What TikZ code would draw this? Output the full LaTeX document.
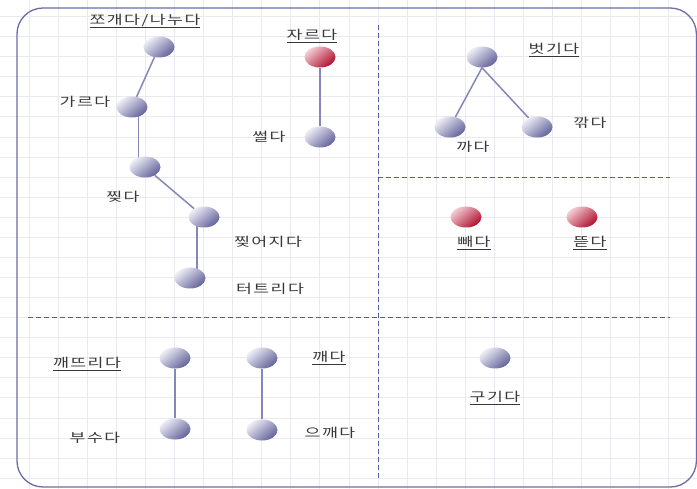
\documentclass[tikz,border=0pt]{standalone}
\usepackage{fontspec}
\newfontfamily\kr[FakeStretch=1.38,LetterSpace=12]{Noto Sans CJK KR}
\usetikzlibrary{shapes.geometric,calc}
\definecolor{gridc}{HTML}{E9E9EF}
\definecolor{framec}{HTML}{6C6CA8}
\definecolor{dashc}{HTML}{5A5AAA}
\definecolor{edgec}{HTML}{8686B8}
\definecolor{balllight}{HTML}{EEEEF7}
\definecolor{balldark}{HTML}{62629A}
\definecolor{redlight}{HTML}{F4CDD6}
\definecolor{reddark}{HTML}{B0102E}
\definecolor{txt}{HTML}{383838}
\pgfdeclarelayer{gridlayer}
\pgfdeclarelayer{edgelayer}
\pgfsetlayers{gridlayer,edgelayer,main}
\tikzset{
  ball/.style={ellipse, minimum width=31pt, minimum height=21pt, inner sep=0pt,
    top color=balllight, bottom color=balldark, shading angle=40},
  redball/.style={ball, top color=redlight, bottom color=reddark, shading angle=40},
  lbl/.style={inner sep=0pt, text=txt, font=\kr\fontsize{12.5}{14}\selectfont},
  edge/.style={draw=edgec, line width=1.5pt},
  sep/.style={draw=dashc, line width=1pt, dash pattern=on 5pt off 3pt},
}
\begin{document}
\begin{tikzpicture}[x=1pt,y=-1pt]
\useasboundingbox (0,0) rectangle (697,489);
\begin{pgfonlayer}{gridlayer}
\fill[white] (0,0) rectangle (697,489);
\foreach \k in {1,...,23} {
  \draw[gridc, line width=0.8pt] ({29.08*\k},0) -- ({29.08*\k},489);
}
\foreach \k in {0,...,23} {
  \draw[gridc, line width=0.8pt] (0,{16.5+20.07*\k}) -- (697,{16.5+20.07*\k});
}
\draw[framec, line width=1.3pt, rounded corners=26pt] (17,8) rectangle (696.4,487);
\coordinate (vt) at (378,25);
\coordinate (vb) at (378,480);
\coordinate (h1l) at (378,178);
\coordinate (h1r) at (670,178);
\coordinate (h2l) at (28,318);
\coordinate (h2r) at (670,318);
\draw[sep] (vt) -- (vb);
\draw[sep] (h1l) -- (h1r);
\draw[sep] (h2l) -- (h2r);
\end{pgfonlayer}

% nodes
\node[ball] (n1) at (159,47) {};
\node[ball] (n2) at (132,107) {};
\node[ball] (n3) at (145,167) {};
\node[ball] (n4) at (204,217) {};
\node[ball] (n5) at (190,278) {};
\node[redball] (ja) at (320,57) {};
\node[ball] (sseol) at (320,137) {};
\node[ball] (beot) at (482,57) {};
\node[ball] (kka) at (450,127) {};
\node[ball] (kkak) at (537,127) {};
\node[redball] (ppae) at (466,217) {};
\node[redball] (tteut) at (582,217) {};
\node[ball] (kkaet) at (175,358) {};
\node[ball] (busu) at (175,429) {};
\node[ball] (kkae) at (262,358) {};
\node[ball] (eukkae) at (262,430) {};
\node[ball] (gugi) at (495,358) {};

% labels
\node[lbl] (l1) at (145,21) {\underline{쪼개다/나누다}};
\node[lbl] (l2) at (85,102) {가르다};
\node[lbl] (l3) at (123,197) {찢다};
\node[lbl] (l4) at (268,242) {찢어지다};
\node[lbl] (l5) at (270,289) {터트리다};
\node[lbl] (lja) at (312,36) {\underline{자르다}};
\node[lbl] (lsseol) at (269,137) {썰다};
\node[lbl] (lbeot) at (554,50) {\underline{벗기다}};
\node[lbl] (lkka) at (473,147) {까다};
\node[lbl] (lkkak) at (590,123) {깎다};
\node[lbl] (lppae) at (474,243) {\underline{빼다}};
\node[lbl] (ltteut) at (590,243) {\underline{뜯다}};
\node[lbl] (lkkaet) at (87,364) {\underline{깨뜨리다}};
\node[lbl] (lbusu) at (95,438) {부수다};
\node[lbl] (lkkae) at (329,358) {\underline{깨다}};
\node[lbl] (leukkae) at (330,433) {으깨다};
\node[lbl] (lgugi) at (495,398) {\underline{구기다}};

\coordinate (m23) at ($(n2)!0.5!(n3)$);
\coordinate (m45) at ($(n4)!0.5!(n5)$);
\begin{pgfonlayer}{edgelayer}
\draw[edge] (n1) -- (n2);
\draw[edge] (m23 |- n2) -- (m23 |- n3);
\draw[edge] (n3) -- (n4);
\draw[edge] (m45 |- n4) -- (m45 |- n5);
\draw[edge] (ja) -- (sseol);
\draw[edge] (beot.south) -- (kka);
\draw[edge] (beot.south) -- (kkak);
\draw[edge] (kkaet) -- (busu);
\draw[edge] (kkae) -- (eukkae);
\end{pgfonlayer}
\end{tikzpicture}
\end{document}
